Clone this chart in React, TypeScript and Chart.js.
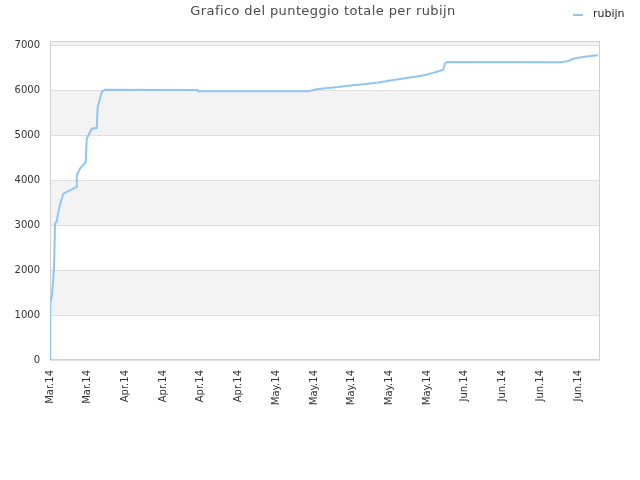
import { useEffect, useRef } from 'react';
import { Chart, registerables } from 'chart.js';

Chart.register(...registerables);

const chartTitle = 'Grafico del punteggio totale per rubijn';
const seriesName = 'rubijn';

// one tick per week, starting on the first day of the series
const tickLabels = [
  'Mar.14', 'Mar.14', 'Apr.14', 'Apr.14', 'Apr.14', 'Apr.14',
  'May.14', 'May.14', 'May.14', 'May.14', 'May.14',
  'Jun.14', 'Jun.14', 'Jun.14', 'Jun.14',
];

const yTicks = [0, 1000, 2000, 3000, 4000, 5000, 6000, 7000];

// days since first entry
const dayOffsets = [
  0, 0.05, 0.32, 0.5, 0.69, 0.8, 0.93, 1.24, 1.54, 2.0,
  2.47, 4.96, 4.97, 5.57, 6.63, 6.81, 7.74, 8.67, 8.85, 9.6,
  10.2, 27.4, 27.5, 47.9, 49.75, 51.6, 53.5, 55.3, 57.2, 59.0,
  60.7, 61.8, 63.1, 64.0, 65.3, 66.5, 67.8, 69.1, 70.0, 70.9,
  72.0, 73.0, 73.3, 73.6, 95.0, 95.9, 96.3, 97.1, 98.0, 99.6,
  101.7,
];

const scores = [
  0, 1266, 1400, 1630, 1963, 2267, 3044, 3074, 3296, 3518,
  3704, 3852, 4111, 4259, 4407, 4926, 5148, 5163, 5630, 5963,
  6015, 6007, 5980, 5980, 6030, 6052, 6074, 6104, 6126, 6148,
  6170, 6193, 6222, 6237, 6259, 6281, 6304, 6333, 6356, 6385,
  6422, 6459, 6593, 6630, 6625, 6652, 6655, 6704, 6726, 6756,
  6785,
];

const palette = {
  line: '#92c5f4',
  band: '#f3f3f3',
  grid: '#dedede',
  border: '#d0d0d0',
  text: '#333333',
  title: '#4a4a4a',
};

const font = 'DejaVu Sans';

// grey bands, plot frame, title and legend
const decorPlugin = {
  id: 'decor',
  beforeDraw(chart: Chart) {
    const { ctx, chartArea } = chart;
    const y = chart.scales.y;
    ctx.save();
    ctx.fillStyle = palette.band;
    for (let v = 1000; v < y.max; v += 2000) {
      const top = y.getPixelForValue(Math.min(v + 1000, y.max));
      const bottom = y.getPixelForValue(v);
      ctx.fillRect(chartArea.left, top, chartArea.right - chartArea.left, bottom - top);
    }
    ctx.restore();
  },
  beforeDatasetsDraw(chart: Chart) {
    const { ctx, chartArea } = chart;
    ctx.save();
    ctx.strokeStyle = palette.border;
    ctx.lineWidth = 1;
    ctx.strokeRect(
      chartArea.left + 0.5,
      chartArea.top + 0.5,
      chartArea.right - chartArea.left - 1,
      chartArea.bottom - chartArea.top - 1,
    );
    ctx.restore();
  },
  afterDraw(chart: Chart) {
    const { ctx } = chart;
    ctx.save();
    ctx.fillStyle = palette.title;
    ctx.font = `13px "${font}"`;
    (ctx as any).letterSpacing = '0.4px';
    ctx.textAlign = 'center';
    ctx.textBaseline = 'middle';
    ctx.fillText(chartTitle, 323, 12);
    (ctx as any).letterSpacing = '0px';

    ctx.strokeStyle = palette.line;
    ctx.lineWidth = 2;
    ctx.beginPath();
    ctx.moveTo(573, 15);
    ctx.lineTo(583, 15);
    ctx.stroke();
    ctx.fillStyle = '#222222';
    ctx.textAlign = 'left';
    ctx.font = `11px "${font}"`;
    ctx.fillText(seriesName, 593, 14);
    ctx.restore();
  },
};

export default function App(): JSX.Element {
  const canvasRef = useRef<HTMLCanvasElement | null>(null);

  useEffect(() => {
    if (!canvasRef.current) return;
    const points = dayOffsets.map((d, i) => ({ x: d, y: scores[i] }));

    const chart = new Chart(canvasRef.current, {
      type: 'line',
      data: {
        datasets: [
          {
            label: seriesName,
            data: points,
            borderColor: palette.line,
            borderWidth: 2,
            pointRadius: 0,
            tension: 0,
            fill: false,
          },
        ],
      },
      options: {
        animation: false,
        responsive: false,
        layout: { padding: { top: 41, right: 40, left: 0, bottom: 0 } },
        plugins: {
          legend: { display: false },
          tooltip: { enabled: false },
        },
        scales: {
          x: {
            type: 'linear',
            min: 0,
            max: 102.1,
            afterFit: (s: any) => {
              s.height = 120;
            },
            afterBuildTicks: (s: any) => {
              s.ticks = tickLabels.map((_, i) => ({ value: i * 7 }));
            },
            grid: { display: false, drawTicks: false },
            border: { display: false },
            ticks: {
              autoSkip: false,
              maxRotation: 90,
              minRotation: 90,
              padding: 10,
              color: palette.text,
              font: { family: font, size: 10 },
              callback: (value: any) => tickLabels[Math.round(Number(value) / 7)] ?? '',
            },
          },
          y: {
            min: 0,
            max: 7100,
            afterFit: (s: any) => {
              s.width = 50;
            },
            afterBuildTicks: (s: any) => {
              s.ticks = yTicks.map((v) => ({ value: v }));
            },
            grid: { color: palette.grid, drawTicks: false },
            border: { display: false },
            ticks: {
              padding: 10,
              color: palette.text,
              font: { family: font, size: 10 },
              callback: (value: any) => String(value),
            },
          },
        },
      },
      plugins: [decorPlugin],
    });

    return () => {
      chart.destroy();
    };
  }, []);

  return (
    <div style={{ position: 'absolute', left: 0, top: 0, width: 640, height: 480, background: '#fff' }}>
      <canvas ref={canvasRef} width={640} height={480} />
    </div>
  );
}
